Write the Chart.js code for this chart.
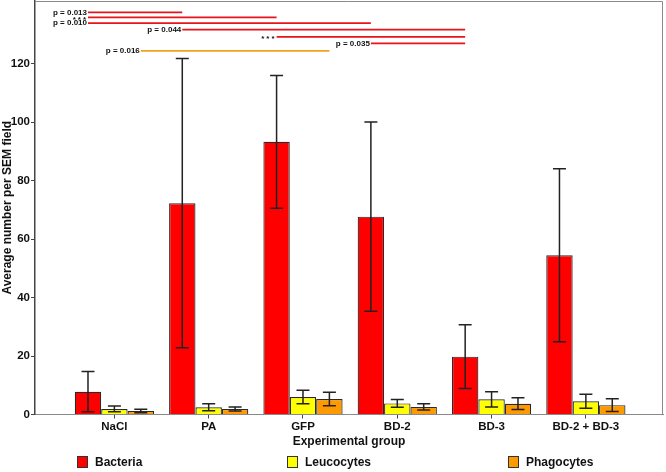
<!DOCTYPE html>
<html>
<head>
<meta charset="utf-8">
<script src="https://cdn.jsdelivr.net/npm/chart.js@4/dist/chart.umd.min.js"></script>
<style>
  body { margin: 0; background: #fff; }
  canvas { display: block; }
</style>
</head>
<body>
<canvas id="barChart" width="666" height="472"></canvas>
<script>
const groups = ['NaCl', 'PA', 'GFP', 'BD-2', 'BD-3', 'BD-2 + BD-3'];
const bacteria = [7.8, 72.3, 93.3, 67.7, 19.8, 54.5];
const bacteriaErr = [6.9, 49.5, 22.7, 32.4, 10.9, 29.6];
const leucocytes = [1.9, 2.5, 6.0, 3.8, 5.2, 4.5];
const leucocytesErr = [1.0, 1.2, 2.3, 1.3, 2.6, 2.4];
const phagocytes = [1.2, 1.9, 5.3, 2.6, 3.7, 3.2];
const phagocytesErr = [0.6, 0.7, 2.3, 1.1, 2.0, 2.2];
const yTicks = [0, 20, 40, 60, 80, 100, 120];

// significance bars: from group, to group, series, level, label
const sigFrom = [0, 0, 0, 1, 2, 3, 0];
const sigTo = [1, 2, 3, 4, 4, 4, 2];
const sigSeries = [0, 0, 0, 0, 0, 0, 2];
const sigLevel = [137.6, 135.9, 133.9, 131.7, 129.2, 127.0, 124.4];
const sigText = ['p = 0.013', '***', 'p = 0.010', 'p = 0.044', '***', 'p = 0.035', 'p = 0.016'];

const FONT = "'Liberation Sans', Arial, sans-serif";
const errors = [bacteriaErr, leucocytesErr, phagocytesErr];

const toPoints = (arr) => arr.map((v, i) => ({ x: i, y: v }));

const barData = {
  datasets: [
    {
      label: 'Bacteria',
      data: toPoints(bacteria),
      backgroundColor: '#ff0000',
      borderColor: '#2a2a2a',
      borderWidth: 1.2,
    },
    {
      label: 'Leucocytes',
      data: toPoints(leucocytes),
      backgroundColor: '#ffff00',
      borderColor: '#2a2a2a',
      borderWidth: 1.2,
    },
    {
      label: 'Phagocytes',
      data: toPoints(phagocytes),
      backgroundColor: '#ff9900',
      borderColor: '#2a2a2a',
      borderWidth: 1.2,
    },
  ],
};

const errorBars = {
  id: 'errorBars',
  afterDatasetsDraw(chart) {
    const ctx = chart.ctx;
    const y = chart.scales.y;
    ctx.save();
    ctx.strokeStyle = '#222';
    ctx.lineWidth = 1.5;
    chart.data.datasets.forEach((ds, d) => {
      const meta = chart.getDatasetMeta(d);
      meta.data.forEach((bar, i) => {
        const v = ds.data[i].y;
        const e = errors[d][i];
        const top = y.getPixelForValue(v + e);
        const bot = y.getPixelForValue(v - e);
        ctx.beginPath();
        ctx.moveTo(bar.x, top);
        ctx.lineTo(bar.x, bot);
        ctx.moveTo(bar.x - 6.5, top);
        ctx.lineTo(bar.x + 6.5, top);
        ctx.moveTo(bar.x - 6.5, bot);
        ctx.lineTo(bar.x + 6.5, bot);
        ctx.stroke();
      });
    });
    ctx.restore();
  },
};

const sigLines = {
  id: 'sigLines',
  afterDraw(chart) {
    const ctx = chart.ctx;
    const y = chart.scales.y;
    ctx.save();
    ctx.font = 'bold 8px ' + FONT;
    ctx.textAlign = 'right';
    ctx.textBaseline = 'middle';
    sigFrom.forEach((a, k) => {
      const meta = chart.getDatasetMeta(sigSeries[k]);
      const x1 = meta.data[a].x;
      const x2 = meta.data[sigTo[k]].x;
      const py = y.getPixelForValue(sigLevel[k]);
      ctx.strokeStyle = sigSeries[k] === 0 ? '#e8141b' : '#f4a11d';
      ctx.lineWidth = 1.8;
      ctx.beginPath();
      ctx.moveTo(x1, py);
      ctx.lineTo(x2, py);
      ctx.stroke();
      ctx.fillStyle = '#111';
      const stars = sigText[k] === '***';
      ctx.letterSpacing = stars ? '2px' : '0px';
      ctx.fillText(sigText[k], x1 - (stars ? 0 : 1), py + (stars ? 2 : 0));
    });
    ctx.restore();
  },
};

const frame = {
  id: 'frame',
  beforeDatasetsDraw(chart) {
    const a = chart.chartArea;
    const ctx = chart.ctx;
    ctx.save();
    ctx.strokeStyle = '#8a8a8a';
    ctx.lineWidth = 1;
    ctx.beginPath();
    ctx.moveTo(a.left, a.top + 0.5);
    ctx.lineTo(a.right - 0.5, a.top + 0.5);
    ctx.lineTo(a.right - 0.5, a.bottom);
    ctx.stroke();
    ctx.restore();
  },
};

const legendX = [77, 287, 508];
const customLegend = {
  id: 'customLegend',
  afterDraw(chart) {
    const ctx = chart.ctx;
    ctx.save();
    ctx.font = 'bold 12px ' + FONT;
    ctx.textBaseline = 'middle';
    ctx.textAlign = 'left';
    chart.data.datasets.forEach((ds, d) => {
      const x = legendX[d];
      ctx.fillStyle = ds.backgroundColor;
      ctx.fillRect(x, 456, 11, 12);
      ctx.strokeStyle = '#333';
      ctx.lineWidth = 1;
      ctx.strokeRect(x + 0.5, 456.5, 10, 11);
      ctx.fillStyle = '#111';
      ctx.fillText(ds.label, x + 18, 462.5);
    });
    ctx.restore();
  },
};

const barConfig = {
  type: 'bar',
  data: barData,
  options: {
    responsive: false,
    animation: false,
    layout: { padding: { left: 0, right: 3, top: 1, bottom: 0 } },
    datasets: {
      bar: { categoryPercentage: 0.84, barPercentage: 1.0 },
    },
    plugins: {
      legend: { display: false },
      tooltip: { enabled: false },
    },
    scales: {
      x: {
        type: 'linear',
        offset: false,
        min: -0.842,
        max: 5.818,
        afterBuildTicks: (s) => {
          s.ticks = groups.map((g, i) => ({ value: i }));
        },
        afterFit: (s) => {
          s.height = 57.5;
          s.paddingLeft = 0;
          s.paddingRight = 0;
        },
        grid: { offset: false, drawOnChartArea: false, drawTicks: true, tickLength: 4, color: '#444' },
        border: { display: true, color: '#8a8a8a', width: 1 },
        ticks: {
          autoSkip: false,
          maxRotation: 0,
          padding: 1,
          color: '#111',
          font: { family: FONT, size: 11.5, weight: 'bold' },
          callback: (v) => groups[v],
        },
        title: {
          display: true,
          text: 'Experimental group',
          color: '#111',
          font: { family: FONT, size: 12, weight: 'bold' },
          padding: { top: 0, bottom: 23 },
        },
      },
      y: {
        min: 0,
        max: 141.5,
        afterBuildTicks: (s) => {
          s.ticks = yTicks.map((v) => ({ value: v }));
        },
        afterFit: (s) => {
          s.width = 35;
          s.paddingTop = 0;
          s.paddingBottom = 0;
        },
        grid: { drawOnChartArea: false, drawTicks: true, tickLength: 4, color: '#444' },
        border: { display: true, color: '#444', width: 1.5 },
        ticks: {
          padding: 1,
          color: '#111',
          font: { family: FONT, size: 11.5, weight: 'bold' },
        },
        title: {
          display: true,
          text: 'Average number per SEM field',
          color: '#111',
          font: { family: FONT, size: 12, weight: 'bold' },
          padding: { top: 0, bottom: 0 },
        },
      },
    },
  },
  plugins: [frame, errorBars, sigLines, customLegend],
};

let barChart = new Chart(document.getElementById('barChart'), barConfig);
</script>
</body>
</html>
